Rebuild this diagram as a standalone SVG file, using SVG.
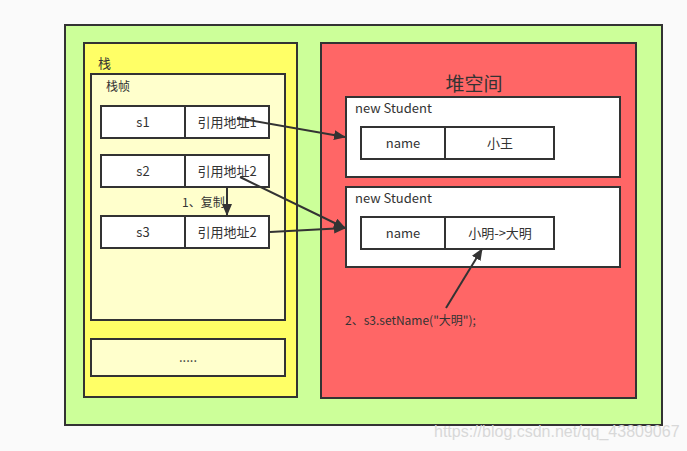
<svg xmlns="http://www.w3.org/2000/svg" width="687" height="451" viewBox="0 0 687 451">
<style>
.box{stroke:#333;stroke-width:2}
.w{fill:#fff}
.t{font-family:"Microsoft YaHei","Noto Sans CJK SC","Liberation Sans",sans-serif;font-size:13px;fill:#333}
.c{text-anchor:middle}
.ln{stroke:#333;stroke-width:2;fill:none;marker-end:url(#ah)}
</style>
<defs>
<marker id="ah" viewBox="0 0 12 10" refX="11" refY="5" markerWidth="12" markerHeight="10" markerUnits="userSpaceOnUse" orient="auto">
<path d="M0,0 L12,5 L0,10 Z" fill="#333"/>
</marker>
</defs>
<rect width="687" height="451" fill="#fafafa"/>
<g id="outer"><rect class="box" x="65" y="25" width="597" height="400" fill="#ccff99"/></g>
<g id="stack">
<rect class="box" x="84" y="43" width="213" height="354" fill="#ffff66"/>
<text class="t" x="98" y="68">栈</text>
</g>
<g id="frame">
<rect class="box" x="91" y="74" width="194" height="246" fill="#ffffcc"/>
<text class="t" x="106" y="91" style="font-size:12px">栈帧</text>
</g>
<g id="s1">
<rect class="box w" x="101" y="106" width="84" height="32"/>
<rect class="box w" x="185" y="106" width="84" height="32"/>
<text class="t c" x="143" y="127">s1</text>
<text class="t c" x="227" y="127">引用地址1</text>
</g>
<g id="s2">
<rect class="box w" x="101" y="155" width="84" height="32"/>
<rect class="box w" x="185" y="155" width="84" height="32"/>
<text class="t c" x="143" y="176">s2</text>
<text class="t c" x="227" y="176">引用地址2</text>
</g>
<g id="s3">
<rect class="box w" x="101" y="216" width="84" height="32"/>
<rect class="box w" x="185" y="216" width="84" height="32"/>
<text class="t c" x="143" y="237">s3</text>
<text class="t c" x="227" y="237">引用地址2</text>
</g>
<g id="more">
<rect class="box" x="91" y="339" width="194" height="37" fill="#ffffcc"/>
<text class="t c" x="188" y="362">.....</text>
</g>
<g id="heap">
<rect class="box" x="321" y="43" width="315" height="355" fill="#ff6666"/>
<text class="t c" x="474" y="91" style="font-size:19px">堆空间</text>
</g>
<g id="student1">
<rect class="box w" x="346" y="97" width="274" height="80"/>
<text class="t" x="355" y="113">new Student</text>
<rect class="box w" x="361" y="127" width="84" height="32"/>
<rect class="box w" x="445" y="127" width="109" height="32"/>
<text class="t c" x="403" y="148">name</text>
<text class="t c" x="500" y="148">小王</text>
</g>
<g id="student2">
<rect class="box w" x="346" y="187" width="274" height="80"/>
<text class="t" x="355" y="203">new Student</text>
<rect class="box w" x="361" y="217" width="84" height="32"/>
<rect class="box w" x="445" y="217" width="109" height="32"/>
<text class="t c" x="403" y="238">name</text>
<text class="t c" x="500" y="238">小明-&gt;大明</text>
</g>
<g id="connectors">
<line class="ln" x1="237" y1="118" x2="345" y2="137"/>
<line class="ln" x1="240" y1="177" x2="345" y2="228"/>
<line class="ln" x1="270" y1="232" x2="345" y2="228"/>
<line class="ln" x1="227" y1="187" x2="227" y2="215"/>
<line class="ln" x1="446" y1="308" x2="482" y2="249"/>
<text class="t" x="182" y="207" style="font-size:12px">1、复制</text>
<text class="t" x="345" y="325" style="font-size:12px">2、s3.setName("大明");</text>
</g>
<text x="434" y="437" style="font-family:'Liberation Sans',Arial,sans-serif;font-size:16px;fill:#d8d8d8">https://blog.csdn.net/qq_43809067</text>
</svg>
